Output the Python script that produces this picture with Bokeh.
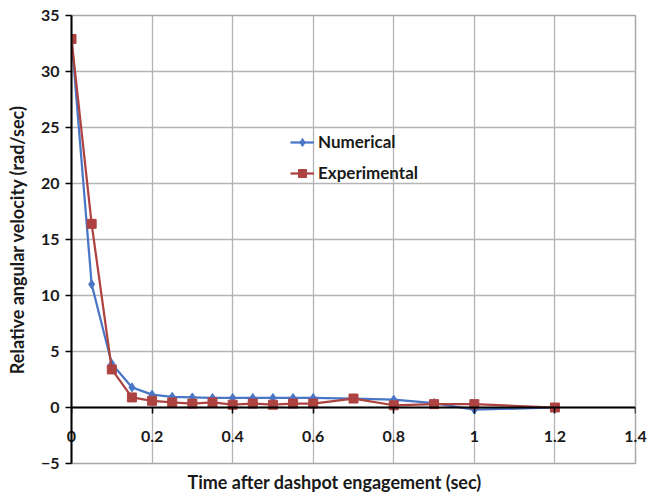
from bokeh.plotting import figure
from bokeh.models import (Range1d, SingleIntervalTicker, FixedTicker, Legend,
                          LegendItem, Title, LinearAxis)
from bokeh.embed import file_html
from bokeh.resources import INLINE

# ---- data ----
time_num = [0, 0.05, 0.1, 0.15, 0.2, 0.25, 0.3, 0.35, 0.4, 0.45, 0.5, 0.55,
            0.6, 0.7, 0.8, 0.9, 1.0, 1.2]
vel_num = [33.0, 11.0, 3.9, 1.8, 1.15, 0.95, 0.9, 0.85, 0.85, 0.85, 0.85, 0.85,
           0.85, 0.8, 0.7, 0.4, -0.2, 0.0]
time_exp = [0, 0.05, 0.1, 0.15, 0.2, 0.25, 0.3, 0.35, 0.4, 0.45, 0.5, 0.55,
            0.6, 0.7, 0.8, 0.9, 1.0, 1.2]
vel_exp = [32.9, 16.4, 3.4, 0.9, 0.6, 0.45, 0.35, 0.45, 0.25, 0.35, 0.25, 0.35,
           0.35, 0.8, 0.2, 0.3, 0.3, 0.0]
x_ticks = [0, 0.2, 0.4, 0.6, 0.8, 1.0, 1.2, 1.4]
x_tick_labels = ["0", "0.2", "0.4", "0.6", "0.8", "1", "1.2", "1.4"]
series_names = ["Numerical", "Experimental"]
x_title = "Time after dashpot engagement (sec)"
y_title = "Relative angular velocity (rad/sec)"

FONT = "Lato"
TXT = "#1a1a1a"
BLUE = "#4a76c6"
RED = "#ad4340"

p = figure(width=651, height=497, x_range=Range1d(0, 1.4), y_range=Range1d(-5, 35),
           output_backend="svg", toolbar_location=None,
           min_border_left=71, min_border_right=16, min_border_top=15,
           min_border_bottom=34)
p.background_fill_color = "white"
p.border_fill_color = "white"
p.outline_line_color = "#a8a8a8"
p.outline_line_width = 1.5

xt = FixedTicker(ticks=x_ticks)

# x axis line + ticks at y = 0 (labels drawn by the second axis)
p.xaxis.ticker = xt
p.xaxis.major_label_overrides = {t: "" for t in x_ticks}
p.xaxis.fixed_location = 0

# labels-only x axis, pulled up into the frame
lab_axis = LinearAxis(ticker=xt,
                      major_label_overrides={t: l for t, l in zip(x_ticks, x_tick_labels)},
                      axis_line_color=None, major_tick_line_color=None,
                      minor_tick_line_color=None, major_tick_out=0, major_tick_in=0,
                      major_label_standoff=-33,
                      major_label_text_font=FONT, major_label_text_font_style="bold",
                      major_label_text_font_size="16px", major_label_text_color=TXT)
p.add_layout(lab_axis, "below")

p.yaxis.ticker = SingleIntervalTicker(interval=5)
for ax in (p.xaxis[0], p.yaxis[0]):
    ax.axis_line_color = "black"
    ax.axis_line_width = 2
    ax.major_tick_line_color = "black"
    ax.major_tick_line_width = 1.5
    ax.major_tick_out = 6
    ax.major_tick_in = 0
    ax.minor_tick_line_color = None
    ax.major_label_text_font = FONT
    ax.major_label_text_font_style = "bold"
    ax.major_label_text_font_size = "16px"
    ax.major_label_text_color = TXT
p.yaxis.major_label_standoff = 6
p.yaxis.axis_label = y_title
p.yaxis.axis_label_text_font = FONT
p.yaxis.axis_label_text_font_style = "bold"
p.yaxis.axis_label_text_font_size = "18px"
p.yaxis.axis_label_text_color = TXT
p.yaxis.axis_label_standoff = 10

# grid
p.xgrid.ticker = xt
p.ygrid.ticker = SingleIntervalTicker(interval=5)
for g in (p.xgrid, p.ygrid):
    g.grid_line_color = "#b4b4b4"
    g.grid_line_width = 1.3

# x title below
p.add_layout(Title(text=x_title, align="left", offset=116, text_font=FONT,
                   text_font_style="bold", text_font_size="18px",
                   text_color=TXT, standoff=10), "below")

# series
l1 = p.line(time_num, vel_num, line_color=BLUE, line_width=2.25)
s1 = p.scatter(time_num, vel_num, marker="diamond", size=9, color=BLUE)
l2 = p.line(time_exp, vel_exp, line_color=RED, line_width=2.25)
s2 = p.scatter(time_exp, vel_exp, marker="square", size=9, color=RED)

legend = Legend(items=[LegendItem(label=series_names[0], renderers=[l1, s1]),
                       LegendItem(label=series_names[1], renderers=[l2, s2])],
                location=(214, 275), orientation="vertical",
                background_fill_alpha=0, border_line_alpha=0,
                glyph_width=24, glyph_height=20, label_height=20,
                label_standoff=4, spacing=10, padding=5, margin=0,
                label_text_font=FONT, label_text_font_style="bold",
                label_text_font_size="17px", label_text_color=TXT)
p.add_layout(legend, "center")

open("out.html", "w").write(file_html(p, INLINE))
